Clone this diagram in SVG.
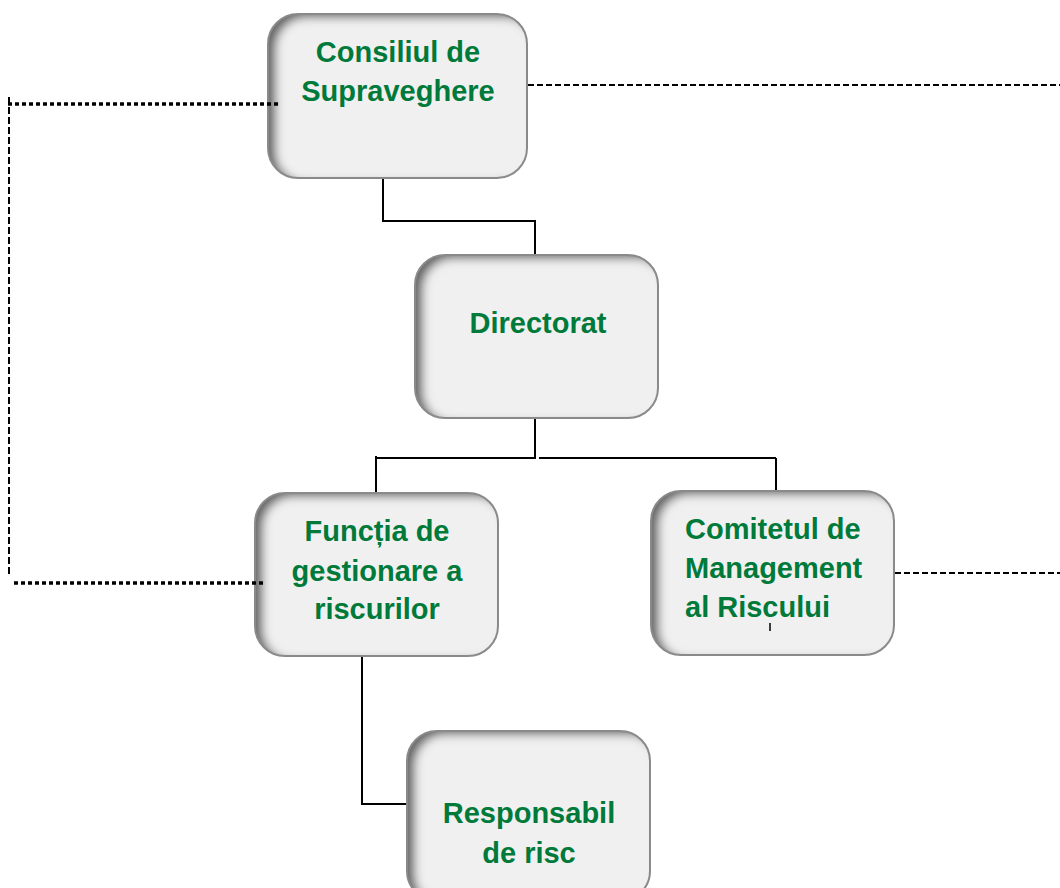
<svg xmlns="http://www.w3.org/2000/svg" width="1060" height="888" viewBox="0 0 1060 888">
<defs>
<filter id="inset" x="-10%" y="-10%" width="120%" height="120%">
<feFlood flood-color="#000" flood-opacity="0.85" result="f"/>
<feComposite in="f" in2="SourceAlpha" operator="out" result="o"/>
<feGaussianBlur in="o" stdDeviation="5" result="b"/>
<feOffset in="b" dx="8" dy="4" result="of"/>
<feComposite in="of" in2="SourceAlpha" operator="in" result="s"/>
<feMerge><feMergeNode in="SourceGraphic"/><feMergeNode in="s"/></feMerge>
</filter>
</defs>
<style>
.box{fill:#f0f0f0;filter:url(#inset)}
.edge{fill:none;stroke:#8a8a8a;stroke-width:2}
.t{font-family:"Liberation Sans",Arial,sans-serif;font-weight:bold;font-size:29px;fill:#007a3a}
.c{text-anchor:middle}
.ln{fill:none;stroke:#000;stroke-width:2}
.dot{fill:none;stroke:#000;stroke-width:3.5;stroke-dasharray:4 3}
.dsh{fill:none;stroke:#000;stroke-width:2;stroke-dasharray:6 3}
</style>
<rect width="1060" height="888" fill="#fff"/>
<g id="n-consiliul">
<rect class="box" x="268" y="14" width="259" height="164" rx="30"/>
<rect class="edge" x="268" y="14" width="259" height="164" rx="30"/>
<text class="t c" x="398" y="62">Consiliul de</text>
<text class="t c" x="398" y="101">Supraveghere</text>
</g>
<g id="n-directorat">
<rect class="box" x="415" y="255" width="243" height="163" rx="30"/>
<rect class="edge" x="415" y="255" width="243" height="163" rx="30"/>
<text class="t c" x="538" y="333">Directorat</text>
</g>
<g id="n-functia">
<rect class="box" x="255" y="493" width="243" height="163" rx="30"/>
<rect class="edge" x="255" y="493" width="243" height="163" rx="30"/>
<text class="t c" x="377" y="541">Funcția de</text>
<text class="t c" x="377" y="581">gestionare a</text>
<text class="t c" x="377" y="619">riscurilor</text>
</g>
<g id="n-comitetul">
<rect class="box" x="651" y="491" width="243" height="164" rx="30"/>
<rect class="edge" x="651" y="491" width="243" height="164" rx="30"/>
<text class="t" x="685" y="539">Comitetul de</text>
<text class="t" x="685" y="578">Management</text>
<text class="t" x="685" y="617">al Riscului</text>
</g>
<g id="n-responsabil">
<rect class="box" x="407" y="731" width="243" height="170" rx="30"/>
<rect class="edge" x="407" y="731" width="243" height="170" rx="30"/>
<text class="t c" x="529" y="823">Responsabil</text>
<text class="t c" x="529" y="863">de risc</text>
</g>
<g id="connectors">
<path class="ln" d="M383 179 V221 H535 V254"/>
<path class="ln" d="M535 419 V458"/>
<path class="ln" d="M376 458 H536 M539 458 H776"/>
<path class="ln" d="M376 456 V492 M776 458 V490"/>
<path class="ln" d="M362 657 V804 H406"/>
<path class="dot" d="M278 104 H8"/>
<path class="dsh" d="M9 97 V576" style="stroke-dasharray:7 3"/>
<path class="dot" d="M14 583 H264"/>
<path class="dsh" d="M528 85 H1060"/>
<path class="dsh" d="M895 573 H1060"/>
<path class="ln" d="M770 623 V631" style="stroke-width:1.5"/>
</g>
</svg>
